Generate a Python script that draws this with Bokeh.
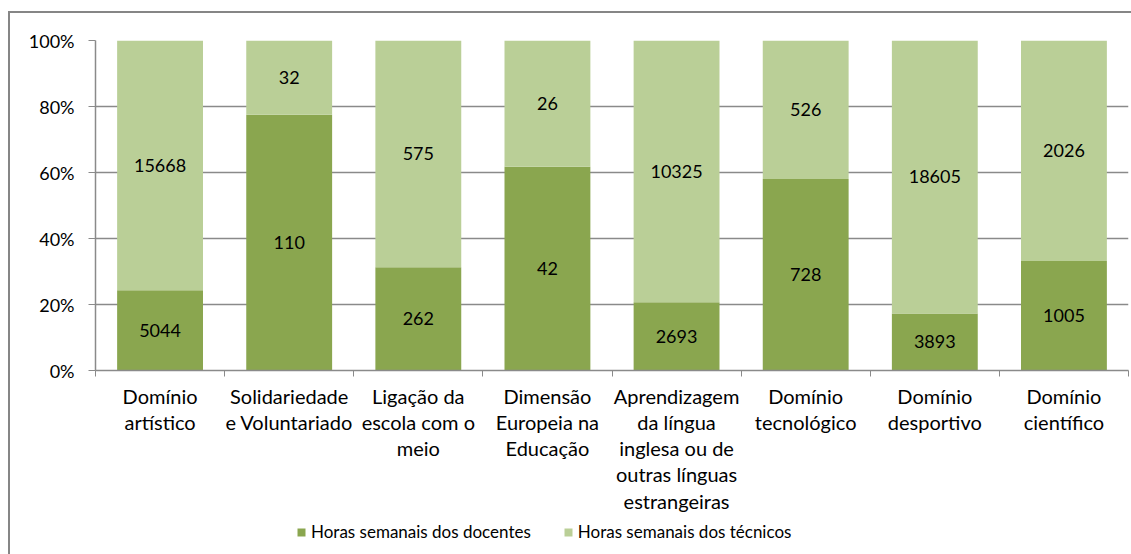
from bokeh.plotting import figure
from bokeh.layouts import column
from bokeh.models import (ColumnDataSource, FixedTicker, NumeralTickFormatter,
                          Legend, LegendItem, Range1d)
from bokeh.core.properties import value
from bokeh.embed import file_html
from bokeh.resources import INLINE

categories = ["Domínio\nartístico", "Solidariedade\ne Voluntariado",
              "Ligação da\nescola com o\nmeio", "Dimensão\nEuropeia na\nEducação",
              "Aprendizagem\nda língua\ninglesa ou de\noutras línguas\nestrangeiras",
              "Domínio\ntecnológico", "Domínio\ndesportivo", "Domínio\ncientífico"]
docentes = [5044, 110, 262, 42, 2693, 728, 3893, 1005]
tecnicos = [15668, 32, 575, 26, 10325, 526, 18605, 2026]
series_names = ["Horas semanais dos docentes", "Horas semanais dos técnicos"]
y_ticks = [0, 0.2, 0.4, 0.6, 0.8, 1.0]

DARK = "#8aa64f"
LIGHT = "#bacf97"
GRAY = "#8a8a8a"
FONT = "Lato"

n = len(categories)
xs = [i + 0.5 for i in range(n)]
doc_share = [d / (d + t) for d, t in zip(docentes, tecnicos)]
tec_share = [t / (d + t) for d, t in zip(docentes, tecnicos)]
src = ColumnDataSource(dict(
    x=xs,
    doc_share=doc_share,
    tec_share=tec_share,
    doc_mid=[s / 2 for s in doc_share],
    tec_mid=[s + (1 - s) / 2 for s in doc_share],
    doc_txt=[str(v) for v in docentes],
    tec_txt=[str(v) for v in tecnicos],
))

# ---------------- main chart ----------------
p = figure(width=1131, height=520, x_range=Range1d(0, n), y_range=Range1d(0, 1),
           output_backend="svg", toolbar_location=None,
           min_border_left=95, min_border_right=3, min_border_top=40,
           min_border_bottom=150)
p.outline_line_color = None
p.background_fill_color = "white"
p.border_fill_color = None

p.vbar_stack(["doc_share", "tec_share"], x="x", width=0.665, source=src,
             fill_color=[DARK, LIGHT], line_color=None)

for ycol, tcol in (("doc_mid", "doc_txt"), ("tec_mid", "tec_txt")):
    p.text(x="x", y=ycol, text=tcol, source=src, text_align="center",
           text_baseline="middle", text_font=value(FONT), text_font_size="18px",
           text_color="#000000")

# x axis: labels at centers, ticks at category boundaries (minor ticks)
xa = p.xaxis[0]
xa.ticker = FixedTicker(ticks=xs, minor_ticks=list(range(n + 1)))
xa.major_label_overrides = {x: c for x, c in zip(xs, categories)}
xa.major_tick_out = 0
xa.major_tick_in = 0
xa.minor_tick_out = 6
xa.minor_tick_in = 0
xa.minor_tick_line_color = GRAY
xa.axis_line_color = GRAY
xa.axis_line_width = 1.5
xa.major_label_text_font = FONT
xa.major_label_text_font_size = "20px"
xa.major_label_text_color = "#000000"
xa.major_label_text_line_height = 1.095
xa.major_label_standoff = 7
xa.major_label_orientation = "horizontal"

ya = p.yaxis[0]
ya.ticker = FixedTicker(ticks=y_ticks, minor_ticks=[])
ya.formatter = NumeralTickFormatter(format="0%")
ya.major_tick_out = 7
ya.major_tick_in = 0
ya.major_tick_line_color = GRAY
ya.axis_line_color = GRAY
ya.axis_line_width = 1.5
ya.major_label_text_font = FONT
ya.major_label_text_font_size = "18px"
ya.major_label_text_color = "#000000"
ya.major_label_standoff = 14

p.xgrid.grid_line_color = None
p.ygrid.ticker = FixedTicker(ticks=y_ticks)
p.ygrid.grid_line_color = GRAY
p.ygrid.grid_line_width = 1.5

# ---------------- legend strip ----------------
# zero-width copies of the series, kept out of view; they only feed the legend swatches
lg = figure(width=1131, height=34, x_range=Range1d(0, 1), y_range=Range1d(10, 11),
            x_axis_type=None, y_axis_type=None,
            output_backend="svg", toolbar_location=None,
            min_border_left=0, min_border_right=0, min_border_top=0,
            min_border_bottom=0)
lg.grid.visible = False
lg.outline_line_color = None
lg.background_fill_color = None
lg.border_fill_color = None
lbars = lg.vbar_stack(["doc_share", "tec_share"], x="x", width=0.0,
                      source=src, fill_color=[DARK, LIGHT], line_color=None)

legend = Legend(items=[LegendItem(label=series_names[0], renderers=[lbars[0]]),
                       LegendItem(label=series_names[1], renderers=[lbars[1]])],
                orientation="horizontal", location=(201, 12),
                glyph_width=10, glyph_height=10, label_standoff=5, spacing=32,
                padding=0, margin=0, border_line_color=None,
                background_fill_alpha=0,
                label_text_font=FONT, label_text_font_size="17px",
                label_text_color="#000000", label_height=20)
lg.add_layout(legend, "center")

layout = column(p, lg, spacing=0)
layout.styles = {
    "background": ("linear-gradient(#868686,#868686) 8px 11px / 100% 2px no-repeat, "
                   "linear-gradient(#868686,#868686) 8px 11px / 2px 100% no-repeat, white"),
}

open("out.html", "w").write(file_html(layout, INLINE))
